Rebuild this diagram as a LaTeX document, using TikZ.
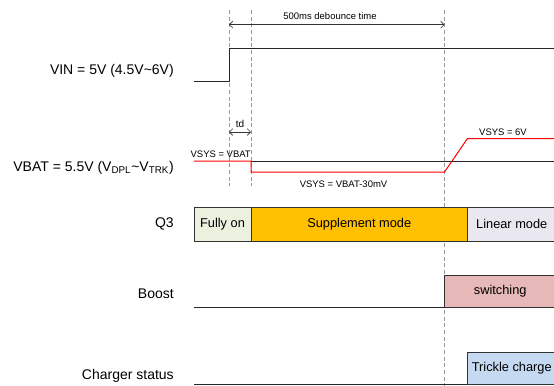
\documentclass[tikz,border=0pt]{standalone}
\usepackage{fontspec}
\setmainfont{Liberation Sans}
\usetikzlibrary{arrows.meta}
\definecolor{fullyonfill}{HTML}{EBF1DE}
\definecolor{supplementfill}{HTML}{FFC000}
\definecolor{linearfill}{HTML}{E9E7F0}
\definecolor{switchfill}{HTML}{E6B8B7}
\definecolor{tricklefill}{HTML}{C5D9F1}
\begin{document}
\begin{tikzpicture}[x=0.75pt, y=-0.75pt,
    every node/.style={inner sep=0pt},
    sig/.style={line width=0.75pt, black!85},
    vsys/.style={line width=0.75pt, red},
    guide/.style={line width=0.5pt, gray!80, dash pattern=on 3pt off 2pt},
    rowlabel/.style={anchor=east, font=\fontsize{10.5}{12}\selectfont},
    statebox/.style={draw=black!80, line width=0.6pt},
    boxtext/.style={font=\fontsize{9.6}{11}\selectfont},
    note/.style={font=\fontsize{7.1}{8}\selectfont},
    span/.style={{Straight Barb[length=2.5pt,width=5pt]}-{Straight Barb[length=2.5pt,width=5pt]}, line width=0.5pt, black!80}]
  \useasboundingbox (0,0) rectangle (554,386);
  % Time marks.
  \coordinate (t0) at (229,0);
  \coordinate (t1) at (251,0);
  \coordinate (t2) at (444.5,0);
  \coordinate (t3) at (467.5,0);
  \coordinate (tend) at (556,0);
  % Guide lines.
  \draw[guide] (t0 |- 0,10) -- (t0 |- 0,186);
  \draw[guide] (t1 |- 0,10) -- (t1 |- 0,186);
  \draw[guide] (t2 |- 0,10) -- (t2 |- 0,386);
  % Row labels.
  \node[rowlabel] (vinlbl)   at (174,71)  {VIN = 5V (4.5V\textasciitilde6V)};
  \node[rowlabel] (vbatlbl)  at (174,168) {VBAT = 5.5V (V\textsubscript{DPL}\textasciitilde V\textsubscript{TRK})};
  \node[rowlabel] (q3lbl)    at (174,224) {Q3};
  \node[rowlabel] (boostlbl) at (174,294) {Boost};
  \node[rowlabel] (chglbl)   at (174,376) {Charger status};
  % Debounce and td spans.
  \coordinate (db0) at (t0 |- 0,24.7);
  \coordinate (db1) at (t2 |- 0,24.7);
  \draw[span] (db0) -- (db1);
  \node[note] (dblbl) at (330,16) {500ms debounce time};
  \coordinate (td0) at (t0 |- 0,132);
  \coordinate (td1) at (t1 |- 0,132);
  \draw[span] (td0) -- (td1);
  \node[note, font=\fontsize{7.5}{8}\selectfont] (tdlbl) at (240,124) {td};
  % VIN.
  \draw[sig] (194,81.5) -- (t0 |- 0,81.5) -- (t0 |- 0,48) -- (554,48);
  % VBAT and VSYS.
  \draw[sig] (t1 |- 0,161) -- (554,161);
  \draw[vsys] (194,161) -- (t1 |- 0,161) -- (t1 |- 0,172) -- (t2 |- 0,172)
    -- (t3 |- 0,138.5) -- (554,138.5);
  \node[note] (vsysa) at (220.7,154) {VSYS = VBAT};
  \node[note] (vsysb) at (343.5,184) {VSYS = VBAT-30mV};
  \node[note] (vsysc) at (503,132.7) {VSYS = 6V};
  % Q3 states.
  \draw[statebox, fill=fullyonfill] (194,207) rectangle (t1 |- 0,241)
    node[midway, boxtext] (fullyon) {Fully on};
  \draw[statebox, fill=supplementfill] (t1 |- 0,207) rectangle (t3 |- 0,241)
    node[midway, boxtext] (supplement) {Supplement mode};
  \draw[statebox, fill=linearfill] (t3 |- 0,207) rectangle (tend |- 0,241)
    node[midway, boxtext] (linear) {Linear mode};
  % Boost.
  \draw[sig] (194,307) -- (t2 |- 0,307);
  \draw[statebox, fill=switchfill] (t2 |- 0,275) rectangle (tend |- 0,307)
    node[midway, boxtext] (switching) {switching};
  % Charger status.
  \draw[sig] (194,384.5) -- (554,384.5);
  \draw[statebox, fill=tricklefill] (t3 |- 0,352) rectangle (tend |- 0,384.5)
    node[midway, boxtext] (trickle) {Trickle charge};
\end{tikzpicture}
\end{document}
